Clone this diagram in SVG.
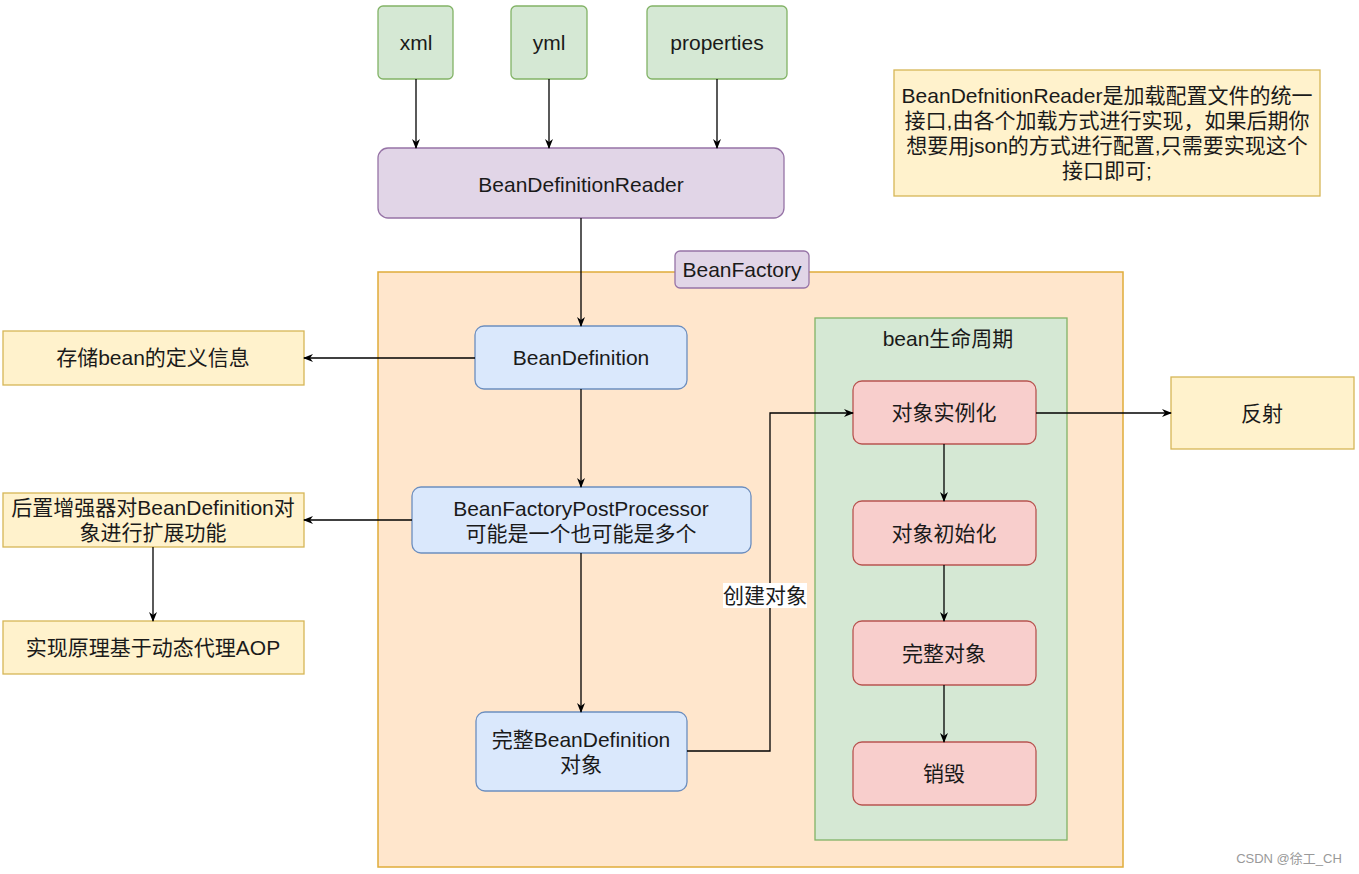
<svg xmlns="http://www.w3.org/2000/svg" width="1359" height="874" viewBox="0 0 1359 874">
<style>
text{font-family:"Liberation Sans","Noto Sans CJK SC",sans-serif;font-size:21px;fill:#1a1a1a;text-anchor:middle}
.green{fill:#d5e8d4;stroke:#82b366;stroke-width:1.3}
.purple{fill:#e1d5e7;stroke:#9673a6;stroke-width:1.3}
.blue{fill:#dae8fc;stroke:#6c8ebf;stroke-width:1.3}
.yellow{fill:#fff2cc;stroke:#d6b656;stroke-width:1.3}
.red{fill:#f8cecc;stroke:#b85450;stroke-width:1.3}
.orange{fill:#ffe6cc;stroke:#e0ac3a;stroke-width:1.5}
.edge{fill:none;stroke:#000;stroke-width:1.3;marker-end:url(#arr)}
</style>
<defs>
<marker id="arr" viewBox="0 0 10 10" refX="9" refY="5" markerWidth="10" markerHeight="10" markerUnits="userSpaceOnUse" orient="auto">
<path d="M0,1 L10,5 L0,9 L3,5 z" fill="#000"/>
</marker>
</defs>
<rect width="1359" height="874" fill="#fff"/>

<g id="beanfactory-container">
<rect class="orange" x="378" y="272" width="745" height="595"/>
</g>
<g id="lifecycle-container">
<rect class="green" x="815" y="318" width="252" height="522"/>
<text x="948" y="346">bean生命周期</text>
</g>

<g id="xml"><rect class="green" x="378" y="6" width="75" height="73" rx="5"/><text x="416" y="50">xml</text></g>
<g id="yml"><rect class="green" x="511" y="6" width="76" height="73" rx="5"/><text x="549" y="50">yml</text></g>
<g id="properties"><rect class="green" x="647" y="6" width="140" height="73" rx="5"/><text x="717" y="50">properties</text></g>

<g id="reader"><rect class="purple" x="378" y="148" width="406" height="70" rx="10"/><text x="581" y="192">BeanDefinitionReader</text></g>

<g id="note">
<rect class="yellow" x="894" y="70" width="426" height="126"/>
<text x="1107" y="103">BeanDefnitionReader是加载配置文件的统一</text>
<text x="1107" y="128">接口,由各个加载方式进行实现，如果后期你</text>
<text x="1107" y="153">想要用json的方式进行配置,只需要实现这个</text>
<text x="1107" y="178">接口即可;</text>
</g>

<g id="beanfactory-label"><rect class="purple" x="675" y="251" width="134" height="37" rx="5"/><text x="742" y="277">BeanFactory</text></g>

<g id="beandefinition"><rect class="blue" x="475" y="326" width="212" height="63" rx="9"/><text x="581" y="365">BeanDefinition</text></g>
<g id="store-info"><rect class="yellow" x="3" y="331" width="301" height="54"/><text x="153" y="365">存储bean的定义信息</text></g>

<g id="bfpp"><rect class="blue" x="412" y="487" width="339" height="66" rx="9"/><text x="581" y="516">BeanFactoryPostProcessor</text><text x="581" y="541">可能是一个也可能是多个</text></g>
<g id="post-enhancer"><rect class="yellow" x="3" y="493" width="301" height="54"/><text x="153" y="515">后置增强器对BeanDefinition对</text><text x="153" y="540">象进行扩展功能</text></g>
<g id="aop"><rect class="yellow" x="3" y="621" width="301" height="53"/><text x="153" y="655">实现原理基于动态代理AOP</text></g>

<g id="full-bd"><rect class="blue" x="476" y="712" width="211" height="79" rx="9"/><text x="581" y="747">完整BeanDefinition</text><text x="581" y="772">对象</text></g>

<g id="instantiate"><rect class="red" x="853" y="381" width="183" height="63" rx="9"/><text x="944" y="420">对象实例化</text></g>
<g id="init"><rect class="red" x="853" y="501" width="183" height="64" rx="9"/><text x="944" y="541">对象初始化</text></g>
<g id="complete-obj"><rect class="red" x="853" y="621" width="183" height="64" rx="9"/><text x="944" y="661">完整对象</text></g>
<g id="destroy"><rect class="red" x="853" y="742" width="183" height="63" rx="9"/><text x="944" y="781">销毁</text></g>

<g id="reflect"><rect class="yellow" x="1171" y="377" width="183" height="72"/><text x="1262" y="421">反射</text></g>

<g id="connectors">
<path class="edge" d="M416,79 V148"/>
<path class="edge" d="M549,79 V148"/>
<path class="edge" d="M717,79 V148"/>
<path class="edge" d="M581,218 V326"/>
<path class="edge" d="M475,358 H304"/>
<path class="edge" d="M581,389 V487"/>
<path class="edge" d="M412,520 H304"/>
<path class="edge" d="M153,547 V621"/>
<path class="edge" d="M581,553 V712"/>
<path class="edge" d="M687,751 H770 V413 H853"/>
<path class="edge" d="M944,444 V501"/>
<path class="edge" d="M944,565 V621"/>
<path class="edge" d="M944,685 V742"/>
<path class="edge" d="M1036,413 H1171"/>
<rect x="723" y="583" width="84" height="25" fill="#fff"/>
<text x="765" y="603">创建对象</text>
</g>

<text x="1289" y="863" style="font-size:13px;fill:#999">CSDN @徐工_CH</text>
</svg>
